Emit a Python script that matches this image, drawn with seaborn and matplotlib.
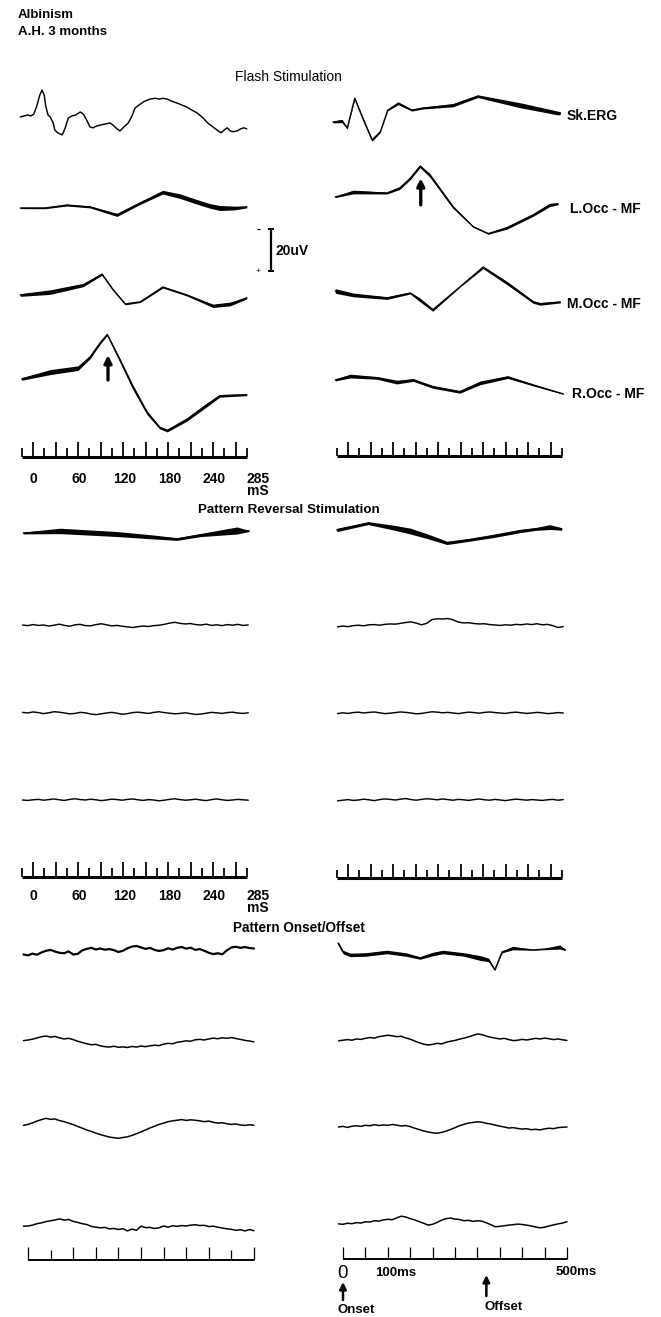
import numpy as np
import matplotlib
matplotlib.use("Agg")
import matplotlib.pyplot as plt
import seaborn as sns

sns.set_theme(style="white")
plt.rcParams["font.family"] = ["Liberation Sans", "DejaVu Sans"]

# ---------------- data (time in ms, amplitude in uV) ----------------
# Flash stimulation, left column
flash_l1_t = [-17, -12, -7, -3, 1, 5, 9, 12, 15, 17, 20, 23, 27, 29, 33, 39, 43, 47, 52, 57, 63, 67, 71, 76,
              80, 85, 91, 97, 103, 108, 112, 116, 121, 127, 132, 136, 143, 149, 156, 163, 169, 173, 179, 185,
              192, 199, 205, 212, 219, 227, 233, 240, 247, 251, 255, 259, 263, 267, 272, 277, 281, 285]
flash_l1_uv = [0, 0.5, 1, 0.5, 1.4, 5.2, 10.5, 12.9, 10.5, 5.2, 1, 0, -2.9, -6.2, -7.6, -8.6, -5.2, -0.5, 0.5,
               1, 2.4, 1.4, -1, -4.8, -5.2, -4.3, -3.8, -3.3, -2.9, -4.3, -5.7, -6.7, -4.8, -2.9, 0.5, 4.3,
               6.2, 7.6, 8.6, 9, 8.6, 9, 8.6, 7.6, 6.7, 5.7, 4.8, 3.3, 1.9, -0.5, -2.9, -4.8, -6.7, -7.6,
               -6.2, -5.2, -6.7, -7.1, -6.7, -5.7, -5.2, -5.7]

flash_l2_t = [-17, 16, 45, 76, 112, 143, 173, 196, 219, 236, 249, 269, 285]
flash_l2_uv = [0, 0, 1.4, 0.5, -3.3, 2.4, 7.6, 5.7, 2.9, 1, 0, 0, 0.5]
flash_l2_w = [0.6, 0.7, 0.9, 0.9, 1.5, 1.3, 1.8, 2.2, 2.2, 2.2, 2.4, 1.8, 0.9]

flash_l3_t = [-17, 23, 67, 92, 107, 123, 143, 173, 205, 240, 263, 285]
flash_l3_uv = [0, 1.4, 4.8, 10, 2.4, -4.3, -3.3, 3.8, 0, -5.2, -4.3, -1.4]
flash_l3_w = [1.3, 2.2, 1.6, 0.9, 0.8, 0.9, 0.6, 0.9, 0.9, 1.6, 1.8, 0.9]

flash_l4_t = [-15, 23, 60, 76, 89, 99, 116, 133, 152, 169, 179, 205, 232, 249, 285]
flash_l4_uv = [0.5, 3.8, 5.7, 11, 17.6, 21.9, 9.5, -3.3, -15.7, -22.9, -24.3, -19, -11.9, -7.6, -7.1]
flash_l4_w = [1.3, 2.4, 2.2, 1.6, 1.3, 0.9, 1.8, 2.2, 1.8, 1.3, 1.3, 1.6, 1.8, 1.3, 0.9]

# Flash stimulation, right column
flash_r1_t = [-20, -8, -1, 9, 19, 32, 43, 53, 67, 85, 100, 140, 173, 229, 280, 283]
flash_r1_uv = [0, 0.5, -2.9, 11.4, 2.4, -8.6, -4.8, 5.7, 9, 5.7, 6.7, 8.1, 12.4, 8.1, 4.3, 4.3]
flash_r1_w = [0.9, 1.6, 0.9, 0.9, 1.3, 1.3, 0.6, 0.6, 1.3, 0.9, 0.9, 1.6, 1.3, 2.4, 1.8, 1.3]

flash_r2_t = [-17, 7, 52, 69, 83, 96, 109, 140, 167, 187, 212, 247, 269, 280]
flash_r2_uv = [0, 2.4, 1.9, 4.3, 9, 14.8, 10.5, -4.8, -14.3, -17.6, -14.8, -8.6, -3.8, -3.3]
flash_r2_w = [0.6, 1.8, 0.9, 1.3, 1.3, 1.3, 1.8, 1.3, 0.6, 0.6, 1.3, 1.3, 1.6, 0.9]

flash_r3_t = [-17, 7, 52, 83, 96, 113, 149, 180, 212, 247, 256, 283]
flash_r3_uv = [0.5, -1.4, -2.9, -0.5, -3.8, -8.6, 2.4, 11.9, 4.3, -4.8, -5.7, -4.8]
flash_r3_w = [2.2, 1.8, 1.3, 0.9, 1.8, 1.3, 0.3, 1.3, 1.6, 1.3, 1.3, 0.9]

flash_r4_t = [-17, 3, 39, 65, 87, 113, 149, 176, 213, 247, 287]
flash_r4_uv = [0, 1.9, 1, -1, 0, -3.3, -5.7, -1.4, 1.4, -2.4, -6.7]
flash_r4_w = [0.9, 1.8, 1.3, 1.8, 1.3, 1.3, 1.3, 1.8, 1.3, 0.9, 0.3]

# Pattern reversal (sample times every 7 ms)
rev_t = list(range(-14, 288, 7))
rev_l1_t = [-13, 36, 112, 160, 192, 223, 272, 288]
rev_l1_uv = [0, 1, -0.5, -1.9, -2.9, -1, 1.2, 1]
rev_l1_w = [0.9, 2.6, 2.4, 1.9, 1.3, 1.5, 3.4, 0.6]
rev_l2_uv = [0, -0.3, 0.2, -0.2, 0.0, -0.5, -0.1, 0.4, -0.2, -0.6,
             0.1, 0.3, -0.3, -0.4, 0.2, 0.6, 0.1, -0.4, -0.2, -0.6,
             -0.9, -1.2, -0.8, -0.5, -0.7, -0.3, -0.1, 0.3, 0.9, 1.3,
             0.8, 0.5, 0.7, 0.2, 0.0, 0.4, -0.2, 0.1, -0.3, 0.2,
             -0.1, 0.3, -0.2, 0.0]
rev_l3_uv = [0.3, 0.0, 0.5, 0.2, -0.3, 0.1, 0.6, 0.4, 0.0, -0.4,
             -0.2, 0.3, 0.1, -0.5, -0.8, -0.4, 0.0, 0.3, -0.1, -0.6,
             -0.3, 0.2, 0.4, 0.1, -0.2, 0.3, 0.6, 0.2, -0.1, -0.4,
             -0.2, 0.1, -0.3, -0.7, -0.5, -0.1, 0.3, 0.1, -0.2, 0.2,
             0.4, 0.0, -0.2, 0.1]
rev_l4_uv = [0.0, -0.2, 0.1, 0.3, -0.1, 0.2, 0.5, 0.1, -0.2, 0.3,
             0.6, 0.2, 0.0, 0.4, 0.1, -0.3, 0.0, 0.4, 0.2, -0.1,
             0.3, 0.5, 0.1, -0.2, 0.2, 0.0, -0.4, -0.1, 0.3, 0.6,
             0.2, -0.1, 0.1, 0.4, 0.0, -0.3, 0.2, 0.5, 0.1, -0.2,
             0.0, 0.3, 0.1, -0.1]
rev_r1_t = [-15, 27, 60, 83, 105, 132, 160, 193, 229, 250, 269, 285]
rev_r1_uv = [0, 3.3, 1.2, -0.5, -2.9, -6.2, -4.8, -2.9, -0.5, 0.5, 1.4, 0.5]
rev_r1_w = [1.6, 1.4, 2.3, 2.8, 2.3, 1.6, 1.4, 1.6, 1.6, 1.4, 2.3, 1.2]
rev_r2_uv = [-0.9, -0.5, -0.8, -0.3, -0.1, -0.4, 0.1, 0.2, -0.1, 0.3,
             0.5, 0.4, 0.8, 1.2, 1.5, 0.9, 0.1, 0.8, 2.6, 3.0,
             2.9, 3.1, 2.5, 1.4, 1.0, 1.1, 0.7, 0.5, 0.6, 0.2,
             0.0, -0.2, 0.1, -0.1, 0.3, 0.1, 0.5, 0.2, 0.6, 0.1,
             0.3, -0.3, -1.2, -0.8]
rev_r3_uv = [-0.3, 0.1, -0.2, 0.2, 0.4, 0.0, 0.3, 0.5, 0.1, -0.3,
             -0.1, 0.2, 0.5, 0.3, 0.0, -0.4, -0.2, 0.2, 0.6, 0.4,
             0.1, 0.3, 0.0, -0.3, 0.1, 0.4, 0.2, -0.1, 0.3, 0.5,
             0.2, 0.0, -0.2, 0.2, 0.4, 0.1, -0.2, 0.0, 0.3, 0.1,
             -0.3, -0.1, 0.2, 0.0]
rev_r4_uv = [-0.4, -0.1, 0.2, -0.2, 0.0, 0.4, 0.1, -0.3, 0.2, 0.5,
             0.3, 0.0, 0.4, 0.7, 0.2, -0.1, 0.3, 0.6, 0.4, 0.1,
             0.5, 0.2, -0.1, 0.3, 0.1, -0.2, 0.2, 0.5, 0.1, -0.1,
             0.3, 0.0, -0.3, 0.1, 0.4, 0.2, -0.1, 0.2, 0.0, -0.2,
             0.1, 0.3, -0.1, 0.2]

# Pattern onset/offset (sample times every 10 ms)
ons_t = list(range(-10, 501, 10))
ons_l1_uv = [-1.2, -1.6, -0.8, -1.3, -0.2, 0.6, 1.0, 0.2, -0.4, -0.6,
             0.3, -1.2, -0.9, 0.8, 1.5, 2.0, 1.2, 1.7, 1.1, 1.4,
             0.9, 0.0, 0.6, 1.8, 2.6, 2.9, 2.2, 1.5, 2.0, 1.0,
             0.5, 0.9, 1.8, 1.2, 2.0, 2.4, 1.6, 2.1, 1.0, 1.4,
             0.6, -0.4, -1.0, -0.6, -1.1, 0.8, 2.2, 2.5, 2.0, 2.4,
             1.9, 1.7]
ons_l2_uv = [-0.3, 0.0, 0.4, 1.0, 1.6, 1.9, 1.4, 1.7, 1.0, 0.5,
             0.8, 0.2, -0.6, -1.2, -1.8, -2.3, -2.1, -2.8, -3.2, -3.4,
             -3.0, -3.5, -3.3, -3.6, -3.1, -3.4, -2.9, -3.2, -2.8, -2.5,
             -2.7, -2.0, -1.6, -1.8, -1.1, -0.8, -0.4, -0.6, 0.1, 0.3,
             0.0, 0.5, 0.9, 0.6, 1.1, 0.8, 1.2, 0.7, 0.3, -0.2,
             -0.5, -0.9]
ons_l3_uv = [-0.2, 0.3, 1.0, 1.9, 2.6, 3.2, 2.7, 2.9, 2.1, 1.6,
             0.9, 0.2, -0.7, -1.5, -2.4, -3.1, -3.9, -4.6, -5.2, -5.8,
             -6.1, -6.4, -6.0, -5.7, -5.0, -4.2, -3.3, -2.4, -1.4, -0.6,
             0.3, 0.9, 1.6, 2.0, 2.3, 2.6, 2.2, 2.5, 2.3, 2.0,
             1.6, 1.9, 1.3, 0.9, 1.1, 0.6, 0.3, 0.5, 0.0, -0.2,
             0.1, -0.1]
ons_l4_uv = [0.4, 0.5, 0.9, 1.6, 2.0, 2.6, 3.0, 3.4, 3.9, 3.3,
             3.6, 2.7, 2.2, 1.6, 1.2, 0.3, -0.1, -0.4, -0.2, -0.9,
             -0.7, -1.2, -0.8, -1.9, -1.0, -1.6, 0.4, -0.3, -0.2, -0.7,
             -0.4, 0.5, -0.1, 0.6, 0.3, 0.7, 0.5, 0.9, 1.1, 0.7,
             0.8, 0.2, 0.4, -0.1, -0.5, -0.9, -1.1, -1.6, -1.3, -1.9,
             -1.2, -1.8]
ons_r1_t = [-11, 0, 16, 50, 98, 140, 172, 200, 223, 270, 306, 325, 339, 355, 379, 424, 450, 484, 496]
ons_r1_uv = [4.3, 0, -1.4, -1.2, 0, -1.2, -2.9, -1.0, 0, -1.2, -2.9, -3.8, -8.6, 0, 1.9, 1.0, 1.4, 2.4, 1.0]
ons_r1_w = [1.4, 1.7, 1.7, 1.7, 1.7, 1.7, 1.2, 1.7, 1.7, 1.7, 2.3, 1.7, 0.6, 0.8, 1.7, 0.3, 0.6, 2.0, 0.6]
ons_r2_uv = [-0.4, -0.1, 0.2, -0.1, 0.5, 0.3, 0.8, 1.2, 0.9, 1.6,
             1.9, 2.3, 2.0, 1.6, 1.8, 1.0, 0.4, -0.5, -1.3, -2.0,
             -2.4, -2.1, -1.6, -1.9, -1.1, -0.6, -0.2, 0.4, 0.9, 1.5,
             2.2, 2.9, 2.6, 1.9, 1.3, 0.9, 0.5, 0.8, 0.2, -0.3,
             -0.1, 0.3, 0.0, 0.4, 0.8, 0.5, 0.9, 0.6, 0.2, 0.5,
             0.1, -0.2]
ons_r3_uv = [0.0, 0.3, -0.2, 0.4, 0.6, 0.3, 0.8, 0.6, 1.1, 0.7,
             1.0, 0.8, 1.2, 0.9, 0.5, 0.7, 0.2, -0.6, -1.2, -1.9,
             -2.4, -2.8, -3.0, -2.6, -2.0, -1.2, -0.3, 0.6, 1.3, 1.9,
             2.2, 2.5, 2.3, 1.8, 1.4, 0.9, 0.4, 0.0, -0.5, -0.3,
             -0.7, -1.0, -0.8, -1.3, -1.1, -1.4, -0.9, -0.6, -0.8, -0.3,
             -0.1, 0.0]
ons_r4_uv = [-0.9, -1.1, -0.6, -0.8, -0.3, -0.5, 0.1, 0.0, 0.6, 0.4,
             1.0, 1.3, 1.1, 2.0, 2.8, 2.4, 1.6, 1.0, 0.2, -0.6,
             -1.5, -1.1, -0.2, 0.9, 1.6, 1.9, 1.4, 1.2, 0.6, 0.8,
             0.3, 0.6, 0.4, -0.4, -1.3, -2.3, -2.1, -1.8, -1.5, -1.3,
             -1.0, -1.2, -1.5, -1.9, -2.4, -2.8, -2.5, -1.9, -1.4, -0.9,
             -0.5, 0.1]

channel_labels = ["Sk.ERG", "L.Occ - MF", "M.Occ - MF", "R.Occ - MF"]
ms_tick_labels = ["0", "60", "120", "180", "240", "285"]
scale_uv = 20
onset_ms, offset_ms = 0, 320

# ---------------- layout ----------------
W, H = 661, 1317
S = 2.08  # pixels per uV
fig = plt.figure(figsize=(W / 100, H / 100), dpi=100)
INK = "#050505"


def px_axes(x0, x1, y0, y1):
    ax = fig.add_axes([x0 / W, 1 - y1 / H, (x1 - x0) / W, (y1 - y0) / H])
    ax.set_axis_off()
    return ax


def trace_axes(origin, k, trange, base, half=32):
    t0, t1 = trange
    ax = px_axes(origin + k * t0, origin + k * t1, base - half * S, base + half * S)
    ax.set_xlim(t0, t1)
    ax.set_ylim(-half, half)
    return ax


def draw(ax, t, v, w=None, lw=1.0):
    if w is not None:
        v_a = np.asarray(v, float)
        w_a = np.asarray(w, float)
        ax.fill_between(t, v_a - w_a / 2, v_a + w_a / 2, color=INK, linewidth=0)
    sns.lineplot(x=t, y=v, ax=ax, color=INK, lw=lw, estimator=None, sort=False)
    ax.set_axis_off()


def ftext(x, y, s, size, weight="normal", ha="left", va="baseline"):
    fig.text(x / W, 1 - y / H, s, fontsize=size, fontweight=weight, ha=ha, va=va, color=INK)


FL = (33, 0.75)   # flash / reversal, left column: 0 ms pixel, px per ms
FR = (348, 0.75)
OL = (28, 0.452)
OR = (343, 0.448)
TR_F = (-30, 310)
TR_O = (-20, 520)

# flash traces
a = trace_axes(*FL, TR_F, 117); draw(a, flash_l1_t, flash_l1_uv, lw=1.05)
a = trace_axes(*FL, TR_F, 208); draw(a, flash_l2_t, flash_l2_uv, flash_l2_w)
a = trace_axes(*FL, TR_F, 295); draw(a, flash_l3_t, flash_l3_uv, flash_l3_w)
a = trace_axes(*FL, TR_F, 380); draw(a, flash_l4_t, flash_l4_uv, flash_l4_w)
a.annotate("", xy=(100, 12), xytext=(100, 0),
           arrowprops=dict(arrowstyle="-|>", color=INK, lw=2.4, mutation_scale=11, shrinkA=0, shrinkB=0))

a = trace_axes(*FR, TR_F, 122); draw(a, flash_r1_t, flash_r1_uv, flash_r1_w)
a = trace_axes(*FR, TR_F, 197); draw(a, flash_r2_t, flash_r2_uv, flash_r2_w)
a.annotate("", xy=(97, 9), xytext=(97, -3.8),
           arrowprops=dict(arrowstyle="-|>", color=INK, lw=2.4, mutation_scale=11, shrinkA=0, shrinkB=0))
a = trace_axes(*FR, TR_F, 292); draw(a, flash_r3_t, flash_r3_uv, flash_r3_w)
a = trace_axes(*FR, TR_F, 380); draw(a, flash_r4_t, flash_r4_uv, flash_r4_w)

# pattern reversal traces
a = trace_axes(*FL, TR_F, 533); draw(a, rev_l1_t, rev_l1_uv, rev_l1_w)
a = trace_axes(*FL, TR_F, 625); draw(a, rev_t, rev_l2_uv, lw=1.05)
a = trace_axes(*FL, TR_F, 713); draw(a, rev_t, rev_l3_uv, lw=1.05)
a = trace_axes(*FL, TR_F, 800); draw(a, rev_t, rev_l4_uv, lw=1.05)
a = trace_axes(*FR, TR_F, 530); draw(a, rev_r1_t, rev_r1_uv, rev_r1_w)
a = trace_axes(*FR, TR_F, 625); draw(a, rev_t, rev_r2_uv, lw=1.05)
a = trace_axes(*FR, TR_F, 713); draw(a, rev_t, rev_r3_uv, lw=1.05)
a = trace_axes(*FR, TR_F, 800); draw(a, rev_t, rev_r4_uv, lw=1.05)

# onset / offset traces
a = trace_axes(*OL, TR_O, 952); draw(a, ons_t, ons_l1_uv, lw=1.6)
a = trace_axes(*OL, TR_O, 1040); draw(a, ons_t, ons_l2_uv, lw=1.1)
a = trace_axes(*OL, TR_O, 1125); draw(a, ons_t, ons_l3_uv, lw=1.1)
a = trace_axes(*OL, TR_O, 1227); draw(a, ons_t, ons_l4_uv, lw=1.1)
a = trace_axes(*OR, TR_O, 952); draw(a, ons_r1_t, ons_r1_uv, ons_r1_w)
a = trace_axes(*OR, TR_O, 1040); draw(a, ons_t, ons_r2_uv, lw=1.1)
a = trace_axes(*OR, TR_O, 1127); draw(a, ons_t, ons_r3_uv, lw=1.1)
a = trace_axes(*OR, TR_O, 1222); draw(a, ons_t, ons_r4_uv, lw=1.1)


# ---------------- time rulers ----------------
def ruler(origin, k, t0, t1, base, major, minor, hmaj, hmin, lwb, lwt):
    ax = px_axes(origin + k * (t0 - 10), origin + k * (t1 + 10), base - 20, base + 4)
    ax.set_xlim(t0 - 10, t1 + 10)
    ax.set_ylim(-4, 20)
    ax.hlines(0, t0, t1, color=INK, lw=lwb)
    ax.vlines(major, 0, hmaj, color=INK, lw=lwt)
    if len(minor):
        ax.vlines(minor, 0, hmin, color=INK, lw=lwt)
    return ax


maj_f = np.arange(0, 271, 30)
min_f = np.arange(-15, 286, 30)
ruler(*FL, -15, 285, 457, maj_f, min_f, 15, 9, 2.2, 1.3)
ruler(*FR, -15, 285, 456, maj_f, min_f, 14, 8, 2.2, 1.3)
ruler(*FL, -15, 285, 877, maj_f, min_f, 15, 9, 2.2, 1.3)
ruler(*FR, -15, 285, 878, maj_f, min_f, 14, 8, 2.2, 1.3)
maj_o = np.array([0, 100, 150, 200, 250, 300, 350, 400, 500])
min_o = np.array([50, 450])
ro_l = ruler(*OL, 0, 500, 1260, maj_o, min_o, 13, 10, 1.4, 0.9)
ro_r = ruler(*OR, 0, 500, 1259, np.arange(0, 501, 50), [], 12, 0, 1.4, 0.9)

# ms labels under the 285-ms rulers
label_pos_ms = [0, 62, 122, 182, 242, 300]
for base in (483, 900):
    for lab, tm in zip(ms_tick_labels, label_pos_ms):
        ftext(FL[0] + FL[1] * tm, base, lab, 10, "bold", ha="center")
    ftext(FL[0] + FL[1] * 300, base + 12, "mS", 10, "bold", ha="center")

# onset / offset labels and arrows
ftext(OR[0] + OR[1] * 0, 1278, "0", 13.5, ha="center")
ftext(OR[0] + OR[1] * 118, 1276, "100ms", 9.5, "bold", ha="center")
ftext(OR[0] + OR[1] * 520, 1275, "500ms", 9.5, "bold", ha="center")
arr = px_axes(OR[0] + OR[1] * -20, OR[0] + OR[1] * 520, 1270, 1305)
arr.set_xlim(-20, 520)
arr.set_ylim(1305, 1270)
arr.annotate("", xy=(onset_ms, 1282), xytext=(onset_ms, 1300),
             arrowprops=dict(arrowstyle="-|>", color=INK, lw=1.8, mutation_scale=10, shrinkA=0, shrinkB=0))
arr.annotate("", xy=(offset_ms, 1275), xytext=(offset_ms, 1296),
             arrowprops=dict(arrowstyle="-|>", color=INK, lw=1.8, mutation_scale=10, shrinkA=0, shrinkB=0))
ftext(OR[0] + OR[1] * 30, 1313, "Onset", 9.5, "bold", ha="center")
ftext(OR[0] + OR[1] * 358, 1310, "Offset", 9.5, "bold", ha="center")

# ---------------- 20 uV calibration bar ----------------
sb = px_axes(250, 310, 271 - 30 * S, 271 + 5 * S)
sb.set_xlim(250, 310)
sb.set_ylim(-5, 30)
sb.vlines(271, 0, scale_uv, color=INK, lw=1.6)
sb.hlines([0, scale_uv], 268, 274, color=INK, lw=1.4)
sb.hlines(scale_uv, 257, 260, color=INK, lw=0.9)
sb.text(258.5, -0.4, "+", fontsize=6, ha="center", va="center", color=INK)
ftext(276, 255, f"{scale_uv}uV", 10, "bold")

# ---------------- headings and channel labels ----------------
ftext(18, 18, "Albinism", 9.5, "bold")
ftext(18, 35, "A.H. 3 months", 9.5, "bold")
ftext(235, 81, "Flash Stimulation", 10)
ftext(198, 513, "Pattern Reversal Stimulation", 9.6, "bold")
ftext(233, 932, "Pattern Onset/Offset", 9.8, "bold")
for lab, (x, y) in zip(channel_labels, [(567, 120), (570, 213), (567, 308), (572, 398)]):
    ftext(x, y, lab, 10, "bold")

fig.savefig("out.png", dpi=100, facecolor="white")
